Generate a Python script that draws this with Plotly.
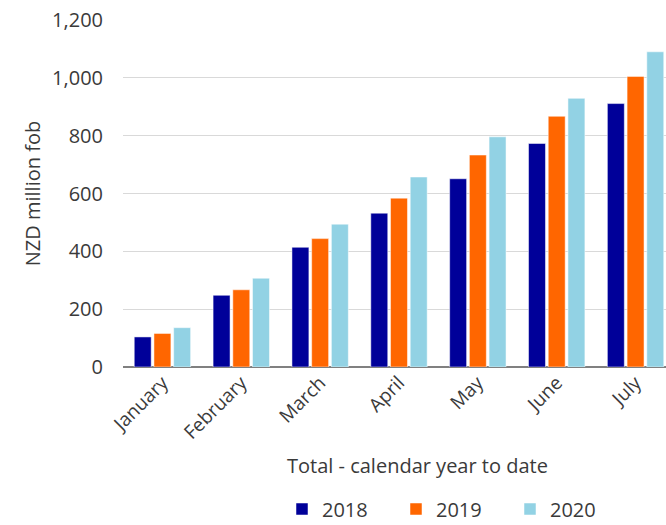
import plotly.graph_objects as go

months = ["January", "February", "March", "April", "May", "June", "July"]
years = ["2018", "2019", "2020"]
v2018 = [104, 248, 414, 532, 651, 773, 911]
v2019 = [116, 267, 444, 584, 733, 867, 1005]
v2020 = [136, 307, 494, 657, 796, 929, 1090]
series = [v2018, v2019, v2020]
colors = ["#000099", "#FF6600", "#92D2E4"]
yticks = [0, 200, 400, 600, 800, 1000, 1200]

FONT = "Open Sans"
TXT = "#3A3A3A"
L, R, T, B = 123, 0, 20, 158
PW = 666 - L - R
PH = 525 - T - B

fig = go.Figure()
for name, vals, c in zip(years, series, colors):
    fig.add_trace(go.Bar(x=months, y=vals, name=name,
                         marker=dict(color=c, line=dict(color="white", width=0.5))))

fig.update_layout(
    width=666, height=525,
    margin=dict(l=L, r=R, t=T, b=B, autoexpand=False),
    plot_bgcolor="white", paper_bgcolor="white",
    barmode="group", bargap=0.25, bargroupgap=0.14,
    font=dict(family=FONT, color=TXT, size=19),
    showlegend=True,
    legend=dict(orientation="h", x=(282 - L) / PW, xanchor="left",
                y=(367 - 509) / PH, yanchor="middle",
                font=dict(size=20, color=TXT), itemwidth=30, entrywidth=69,
                traceorder="normal", bgcolor="rgba(0,0,0,0)"),
    xaxis=dict(range=[-0.5, 6.386], tickangle=-45, tickfont=dict(size=19, color=TXT),
               showgrid=False, showline=False, ticks="", automargin=False),
    yaxis=dict(range=[0, 1200], tickvals=yticks, tickformat=",", showgrid=True,
               gridcolor="#D9D9D9", gridwidth=1.3, zeroline=True, zerolinecolor="#808080",
               zerolinewidth=2, tickfont=dict(size=20, color=TXT), ticks="",
               ticklabelstandoff=19, automargin=False,
               title=dict(text="NZD million fob", font=dict(size=20, color=TXT), standoff=6)),
    annotations=[dict(text="Total - calendar year to date", x=(417 - L) / PW, xref="paper",
                      y=(367 - 465) / PH, yref="paper", showarrow=False,
                      font=dict(size=20, color=TXT), xanchor="center", yanchor="middle")],
)
fig.write_html("out.html")
